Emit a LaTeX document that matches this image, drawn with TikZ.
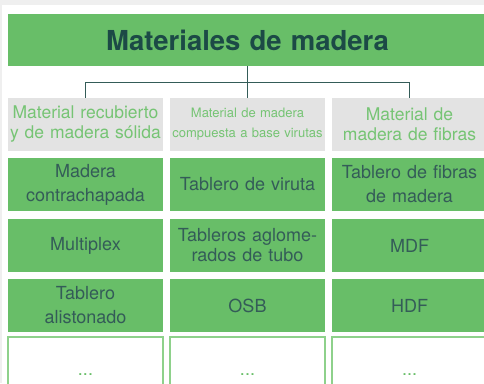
\documentclass[tikz,border=0pt]{standalone}
\usepackage{fontspec}
\setsansfont{TeX Gyre Heros}
\usetikzlibrary{positioning}
\tikzstyle{every picture}+=[font=\sffamily]
\definecolor{leafgreen}{HTML}{68BE68}
\definecolor{palegreen}{HTML}{76C474}
\definecolor{edgegreen}{HTML}{8ED18B}
\definecolor{headgray}{HTML}{E3E3E3}
\definecolor{pagegray}{HTML}{EFEFEF}
\definecolor{deepteal}{HTML}{1C4A46}
\definecolor{inkteal}{HTML}{345C58}

\begin{document}
\begin{tikzpicture}[x=1pt,y=-1pt,
    every node/.style={inner sep=0pt,outer sep=0pt,align=center,minimum width=155pt,minimum height=53pt,text width=155pt},
    titlebox/.style={fill=leafgreen,text=deepteal,minimum width=479pt,text width=479pt,minimum height=52pt,font=\sffamily\bfseries\fontsize{27.5}{30}\selectfont},
    groupbox/.style={fill=headgray,text=palegreen,font=\sffamily\fontsize{17.5}{20}\selectfont},
    cellbox/.style={fill=leafgreen,text=inkteal,font=\sffamily\fontsize{18}{24}\selectfont},
    morebox/.style={fill=white,draw=edgegreen,line width=1.3pt,text=leafgreen,minimum height=76pt,font=\sffamily\fontsize{18}{24}\selectfont},
    link/.style={draw=inkteal,line width=1pt}]
    \useasboundingbox (0,0) rectangle (484,383);
    \clip (0,0) rectangle (484,383);
    \fill[pagegray] (0,0) rectangle (484,383);
    \fill[white] (2.3,5.3) rectangle (484,383);

    % top of the tree
    \node[titlebox] (title) at (247.5,40) {Materiales de madera};

    % the three groups
    \node[groupbox] (solid) at (85.5,124.5) {Material recubierto\\y de madera sólida};
    \node[groupbox,font=\sffamily\fontsize{13}{20}\selectfont] (chips) at (247.5,124.5) {Material de madera\\compuesta a base virutas};
    \node[groupbox] (fibres) at (409.5,124.5) {Material de\\madera de fibras};

    \coordinate (fork) at (247.5,82);
    \draw[link] (title.south) -- (fork);
    \draw[link] (fork) -| (solid.north);
    \draw[link] (fork) -| (fibres.north);
    \draw[link] (fork) -- (chips.north);

    % first column
    \node[cellbox] (plywood) [below=7pt of solid] {Madera\\contrachapada};
    \node[cellbox] (multiplex) [below=8pt of plywood] {Multiplex};
    \node[cellbox] (blockboard) [below=7pt of multiplex] {Tablero\\alistonado};
    \node[morebox] (solidmore) [below=5pt of blockboard] {...};

    % second column
    \node[cellbox] (chipboard) [below=7pt of chips] {Tablero de viruta};
    \node[cellbox,font=\sffamily\fontsize{18}{20}\selectfont] (tubular) [below=8pt of chipboard] {Tableros aglome-\\rados de tubo};
    \node[cellbox] (osb) [below=7pt of tubular] {OSB};
    \node[morebox] (chipsmore) [below=5pt of osb] {...};

    % third column
    \node[cellbox] (fibreboard) [below=7pt of fibres] {Tablero de fibras\\de madera};
    \node[cellbox] (mdf) [below=8pt of fibreboard] {MDF};
    \node[cellbox] (hdf) [below=7pt of mdf] {HDF};
    \node[morebox] (fibresmore) [below=5pt of hdf] {...};
\end{tikzpicture}
\end{document}
